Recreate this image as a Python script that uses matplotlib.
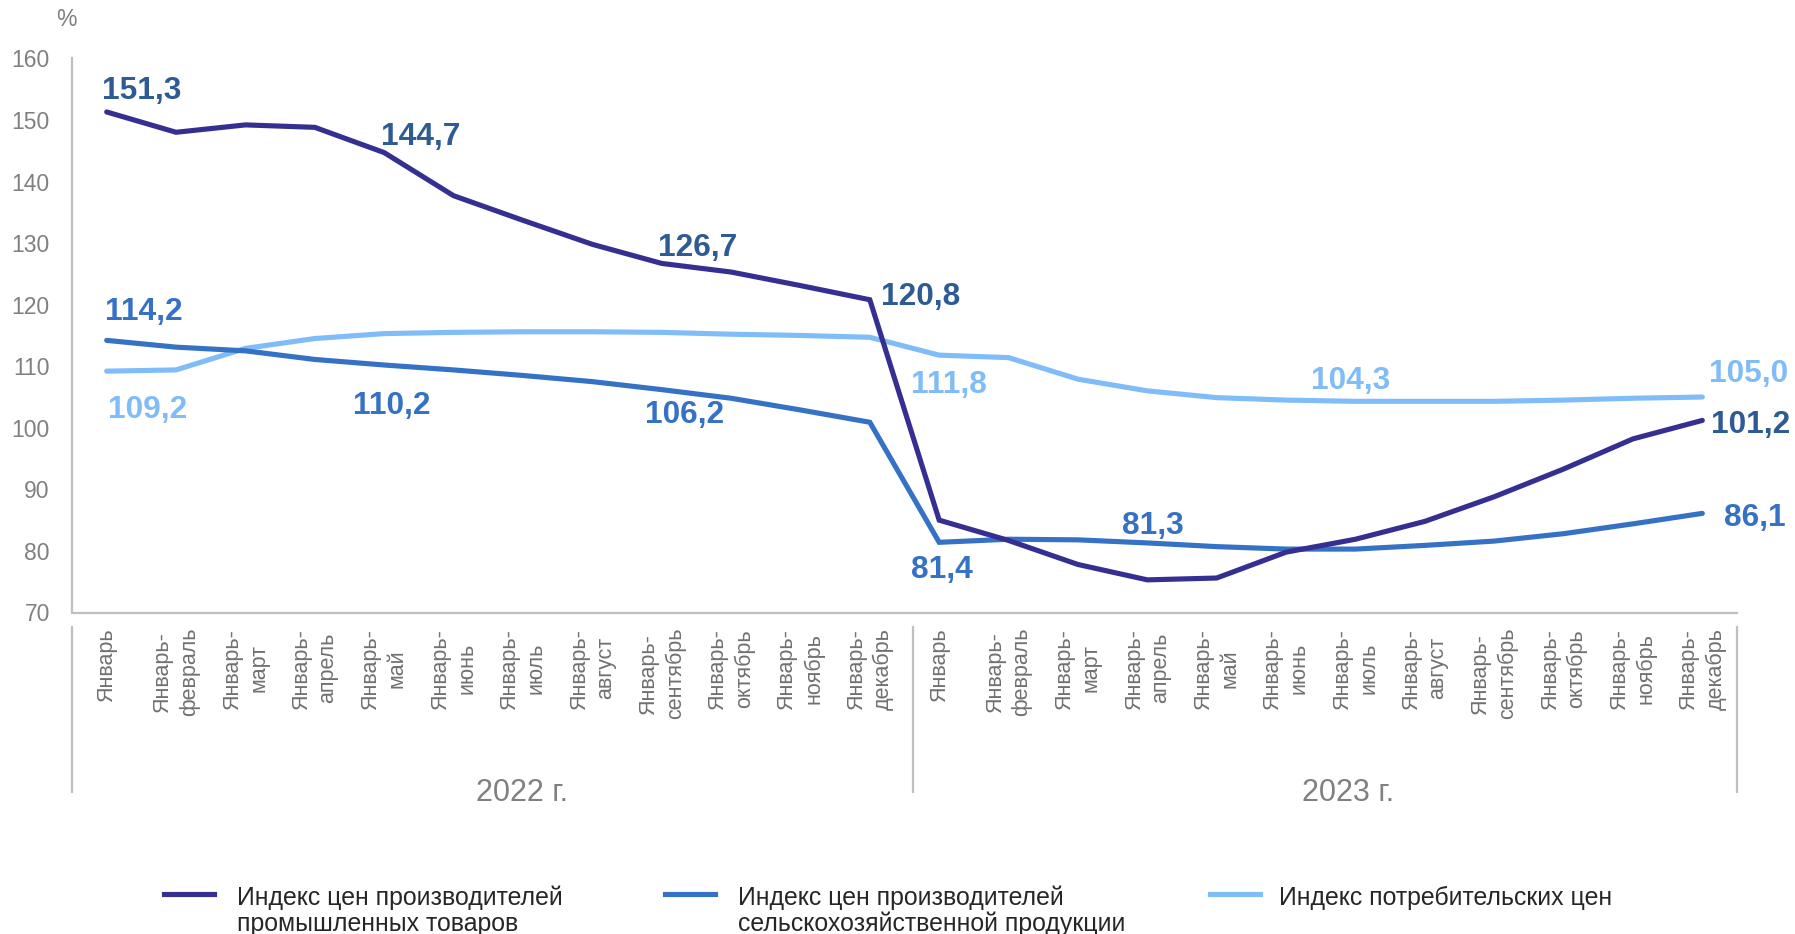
import matplotlib
matplotlib.use('Agg')
import matplotlib.pyplot as plt
from matplotlib.lines import Line2D
import numpy as np

plt.rcParams['font.family'] = ['Liberation Sans', 'DejaVu Sans']

# months (cumulative periods) for each year
months = ['Январь', 'Январь-\nфевраль', 'Январь-\nмарт', 'Январь-\nапрель', 'Январь-\nмай',
          'Январь-\nиюнь', 'Январь-\nиюль', 'Январь-\nавгуст', 'Январь-\nсентябрь',
          'Январь-\nоктябрь', 'Январь-\nноябрь', 'Январь-\nдекабрь']
years = ['2022 г.', '2023 г.']
tick_labels = months * len(years)

industrial = [151.3, 148.0, 149.2, 148.8, 144.7, 137.7, 133.7, 129.8, 126.7, 125.3, 123.1, 120.8,
              85.0, 81.7, 77.8, 75.3, 75.6, 79.8, 81.9, 84.8, 88.8, 93.3, 98.2, 101.2]
agri = [114.2, 113.1, 112.5, 111.1, 110.2, 109.4, 108.5, 107.5, 106.2, 104.8, 102.9, 100.9,
        81.4, 81.9, 81.8, 81.3, 80.7, 80.3, 80.3, 80.9, 81.6, 82.8, 84.4, 86.1]
cpi = [109.2, 109.4, 112.9, 114.5, 115.3, 115.5, 115.6, 115.6, 115.5, 115.2, 115.0, 114.7,
       111.8, 111.4, 107.9, 106.0, 104.9, 104.5, 104.3, 104.3, 104.3, 104.5, 104.8, 105.0]

names = ['Индекс цен производителей\nпромышленных товаров',
         'Индекс цен производителей\nсельскохозяйственной продукции',
         'Индекс потребительских цен']

# which points get a value label and where (offset in points)
label_offsets = {
    0: {0: (25, 15.3), 4: (26, 11.1), 8: (26, 10.9), 11: (36.5, 2.2), 23: (35, -3.3)},
    1: {0: (26.6, 20.3), 4: (5.8, -29.3), 8: (16.5, -18.3), 12: (2, -20.1), 15: (4.3, 12.1), 23: (38, -3.5)},
    2: {0: (29.5, -27.7), 12: (7.2, -21.3), 18: (-3.2, 14.8), 23: (33.6, 16.4)},
}

line_colors = ['#352F91', '#3571C4', '#80BCF8']
text_colors = ['#2E5B93', '#3571C4', '#80BCF8']
gray = '#808080'
axis_gray = '#BFBFBF'

W, H = 1795, 934
fig = plt.figure(figsize=(W / 100, H / 100), dpi=100)
ax = fig.add_axes([72 / W, 1 - 612.5 / H, (1737 - 72) / W, (612.5 - 58.4) / H])

x = np.arange(len(tick_labels))
lines = []
for i, series in enumerate([industrial, agri, cpi]):
    ln, = ax.plot(x, series, color=line_colors[i], lw=3.7, label=names[i],
                  solid_joinstyle='miter', solid_capstyle='round', zorder=3 - i * 0.1)
    lines.append(ln)
    for idx, (dx, dy) in label_offsets[i].items():
        ax.annotate(f'{series[idx]:.1f}'.replace('.', ','), xy=(idx, series[idx]),
                    xytext=(dx, dy), textcoords='offset points', ha='center', va='center',
                    fontsize=22.8, fontweight='bold', color=text_colors[i])

ax.set_xlim(-0.5, len(x) - 0.5)
ax.set_ylim(70, 160)
ax.set_yticks(np.arange(70, 161, 10))
ax.set_xticks(x)
ax.set_xticklabels(tick_labels, rotation=90, ha='center', va='top', fontsize=15.5, color='#707070')
for t in ax.get_xticklabels():
    t.set_linespacing(1.35)
ax.tick_params(axis='x', length=0, pad=11)
ax.tick_params(axis='y', length=0, pad=16, labelsize=16.5, labelcolor=gray)

for side in ['top', 'right']:
    ax.spines[side].set_visible(False)
for side in ['left', 'bottom']:
    ax.spines[side].set_color(axis_gray)
    ax.spines[side].set_linewidth(1.6)

# year group separators and labels below the axis
trans = ax.get_xaxis_transform()
for sx in [-0.5, 11.62, 23.5]:
    ax.plot([sx, sx], [-0.026, -0.324], transform=trans, color=axis_gray, lw=1.6, clip_on=False)
for yx, yl in zip([5.98, 17.9], years):
    ax.text(yx, -0.325, yl, transform=trans, ha='center', va='center', fontsize=22, color=gray)

fig.text(66.5 / W, 1 - 19 / H, '%', ha='center', va='center', fontsize=16.5, color=gray)

# legend drawn by hand: handle sits at the first text line
legend_x = [164, 665, 1210]
legend_text_x = [237, 738, 1279]
for lx, tx, ln in zip(legend_x, legend_text_x, lines):
    fig.add_artist(Line2D([lx / W, (lx + 50) / W], [1 - 894 / H] * 2, transform=fig.transFigure,
                          color=ln.get_color(), lw=3.7))
    for k, part in enumerate(ln.get_label().split('\n')):
        fig.text(tx / W, 1 - (895 + k * 26.6) / H, part, ha='left', va='center_baseline',
                 fontsize=17.9, color='#262626')

fig.savefig('out.png', dpi=100)
